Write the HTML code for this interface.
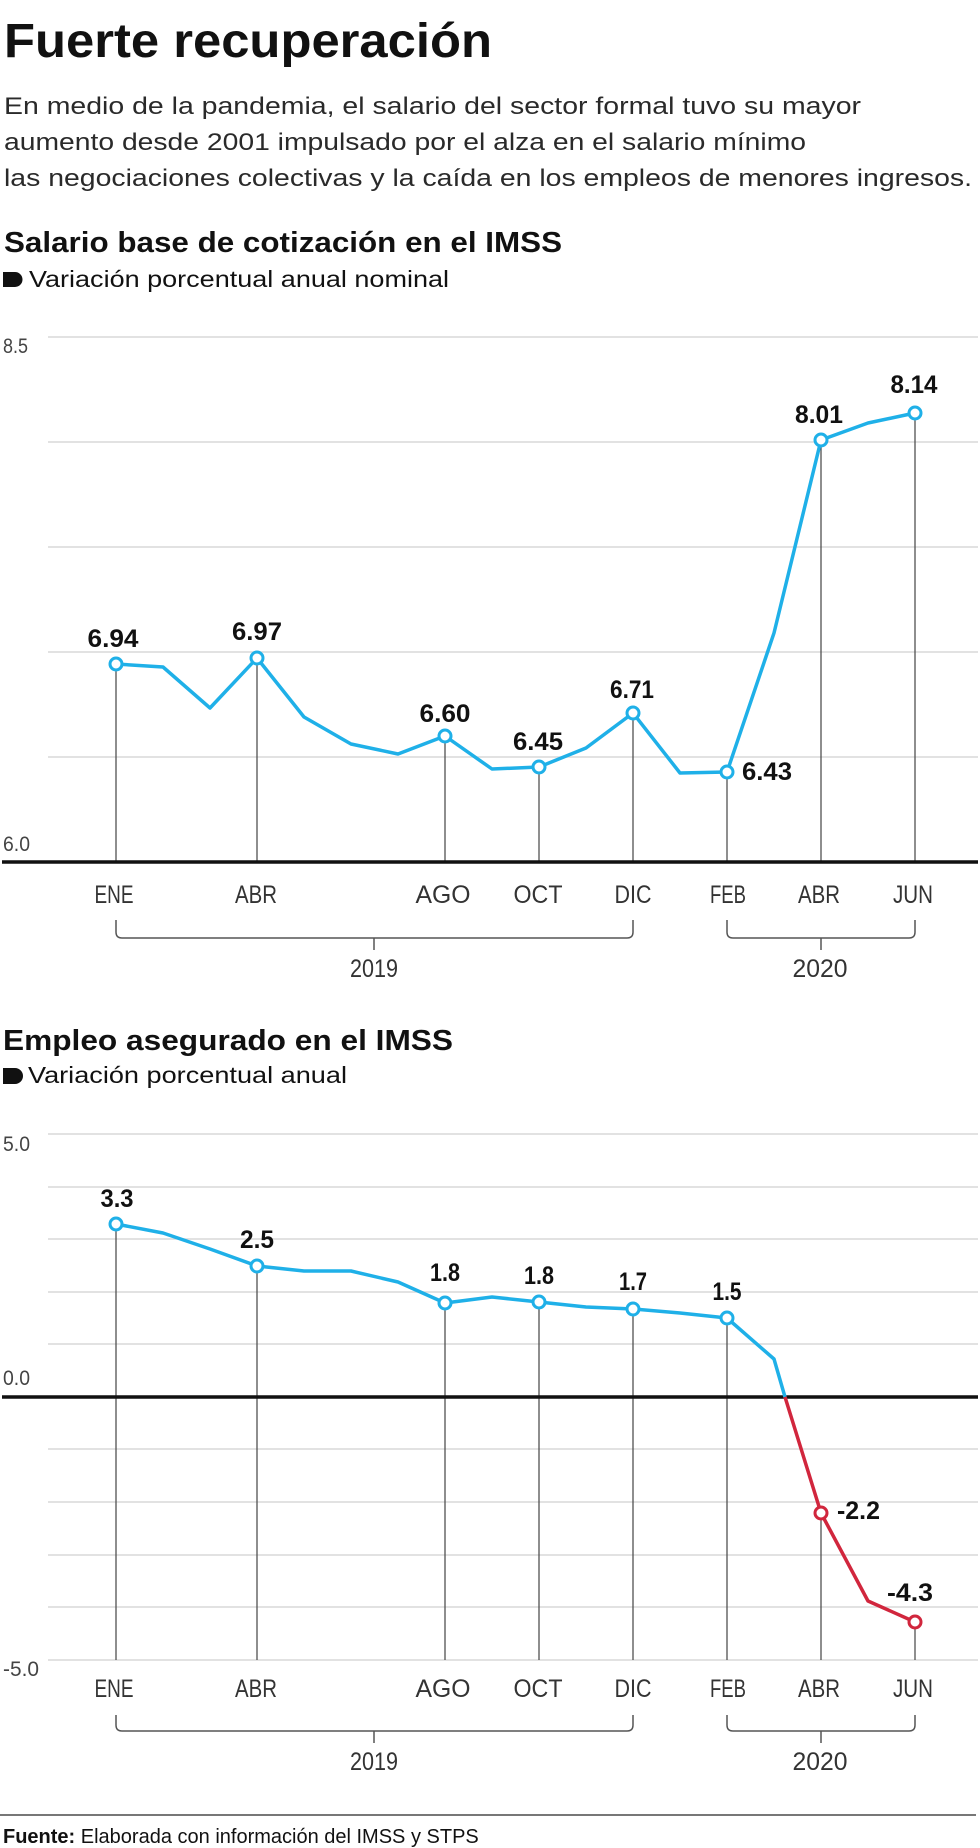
<!DOCTYPE html>
<html>
<head>
<meta charset="utf-8">
<style>
  html, body { margin:0; padding:0; background:#fff; }
  svg { display:block; }
  .t { font-family:"Liberation Sans", Arial, sans-serif; }
</style>
</head>
<body>
<svg width="980" height="1848" viewBox="0 0 980 1848" xmlns="http://www.w3.org/2000/svg" class="t">
  <rect width="980" height="1848" fill="#fff"/>

  <!-- Header -->
  <text x="4" y="57" font-size="48" font-weight="bold" fill="#111" textLength="488" lengthAdjust="spacingAndGlyphs">Fuerte recuperación</text>
  <text x="4" y="114" font-size="24" fill="#2a2a2a" textLength="857" lengthAdjust="spacingAndGlyphs">En medio de la pandemia, el salario del sector formal tuvo su mayor</text>
  <text x="4" y="150" font-size="24" fill="#2a2a2a" textLength="802" lengthAdjust="spacingAndGlyphs">aumento desde 2001 impulsado por el alza en el salario mínimo</text>
  <text x="4" y="186" font-size="24" fill="#2a2a2a" textLength="968" lengthAdjust="spacingAndGlyphs">las negociaciones colectivas y la caída en los empleos de menores ingresos.</text>

  <!-- Chart 1 title -->
  <text x="4" y="252" font-size="29" font-weight="bold" fill="#111" textLength="558" lengthAdjust="spacingAndGlyphs">Salario base de cotización en el IMSS</text>
  <path d="M3,272 h12 a7.5,7.5 0 0 1 0,15 h-12 z" fill="#111"/>
  <text x="29" y="287" font-size="23" fill="#111" textLength="420" lengthAdjust="spacingAndGlyphs">Variación porcentual anual nominal</text>

  <!-- Chart 1 grid -->
  <g stroke="#d9d9d9" stroke-width="1.5">
    <line x1="48" y1="337" x2="978" y2="337"/>
    <line x1="48" y1="442" x2="978" y2="442"/>
    <line x1="48" y1="547" x2="978" y2="547"/>
    <line x1="48" y1="652" x2="978" y2="652"/>
    <line x1="48" y1="757" x2="978" y2="757"/>
  </g>
  <text x="3" y="353" font-size="21" fill="#444" textLength="25" lengthAdjust="spacingAndGlyphs">8.5</text>
  <text x="3" y="851" font-size="21" fill="#444" textLength="27" lengthAdjust="spacingAndGlyphs">6.0</text>

  <!-- Chart 1 drop lines -->
  <g stroke="#444" stroke-width="1.2">
    <line x1="116" y1="664" x2="116" y2="862"/>
    <line x1="257" y1="658" x2="257" y2="862"/>
    <line x1="445" y1="736" x2="445" y2="862"/>
    <line x1="539" y1="767" x2="539" y2="862"/>
    <line x1="633" y1="713" x2="633" y2="862"/>
    <line x1="727" y1="772" x2="727" y2="862"/>
    <line x1="821" y1="440" x2="821" y2="862"/>
    <line x1="915" y1="413" x2="915" y2="862"/>
  </g>
  <line x1="2" y1="862" x2="978" y2="862" stroke="#111" stroke-width="3.5"/>

  <!-- Chart 1 series -->
  <polyline fill="none" stroke="#1fb0e8" stroke-width="3.5" stroke-linejoin="round"
    points="116,664 163,667 210,708 257,658 304,717 351,744 398,754 445,736 492,769 539,767 586,748 633,713 680,773 727,772 774,633 821,440 868,423 915,413"/>
  <g fill="#fff" stroke="#1fb0e8" stroke-width="3">
    <circle cx="116" cy="664" r="6"/>
    <circle cx="257" cy="658" r="6"/>
    <circle cx="445" cy="736" r="6"/>
    <circle cx="539" cy="767" r="6"/>
    <circle cx="633" cy="713" r="6"/>
    <circle cx="727" cy="772" r="6"/>
    <circle cx="821" cy="440" r="6"/>
    <circle cx="915" cy="413" r="6"/>
  </g>
  <g font-size="25" font-weight="bold" fill="#111" text-anchor="middle">
    <text x="113" y="647" textLength="51" lengthAdjust="spacingAndGlyphs">6.94</text>
    <text x="257" y="640" textLength="50" lengthAdjust="spacingAndGlyphs">6.97</text>
    <text x="445" y="722" textLength="51" lengthAdjust="spacingAndGlyphs">6.60</text>
    <text x="538" y="750" textLength="50" lengthAdjust="spacingAndGlyphs">6.45</text>
    <text x="632" y="698" textLength="44" lengthAdjust="spacingAndGlyphs">6.71</text>
    <text x="819" y="423" textLength="48" lengthAdjust="spacingAndGlyphs">8.01</text>
    <text x="914" y="393" textLength="47" lengthAdjust="spacingAndGlyphs">8.14</text>
  </g>
  <text x="742" y="780" font-size="25" font-weight="bold" fill="#111" textLength="50" lengthAdjust="spacingAndGlyphs">6.43</text>

  <!-- Chart 1 x axis -->
  <g font-size="25" fill="#333" text-anchor="middle">
    <text x="114" y="903" textLength="39" lengthAdjust="spacingAndGlyphs">ENE</text>
    <text x="256" y="903" textLength="42" lengthAdjust="spacingAndGlyphs">ABR</text>
    <text x="443" y="903" textLength="55" lengthAdjust="spacingAndGlyphs">AGO</text>
    <text x="538" y="903" textLength="49" lengthAdjust="spacingAndGlyphs">OCT</text>
    <text x="633" y="903" textLength="37" lengthAdjust="spacingAndGlyphs">DIC</text>
    <text x="728" y="903" textLength="36" lengthAdjust="spacingAndGlyphs">FEB</text>
    <text x="819" y="903" textLength="42" lengthAdjust="spacingAndGlyphs">ABR</text>
    <text x="913" y="903" textLength="40" lengthAdjust="spacingAndGlyphs">JUN</text>
    <text x="374" y="977" textLength="48" lengthAdjust="spacingAndGlyphs">2019</text>
    <text x="820" y="977" textLength="55" lengthAdjust="spacingAndGlyphs">2020</text>
  </g>
  <g fill="none" stroke="#555" stroke-width="1.5">
    <path d="M116,920 V932 Q116,938 122,938 H627 Q633,938 633,932 V920"/>
    <path d="M374,938 V950"/>
    <path d="M727,920 V932 Q727,938 733,938 H909 Q915,938 915,932 V920"/>
    <path d="M821,938 V950"/>
  </g>

  <!-- Chart 2 title -->
  <text x="3" y="1050" font-size="29" font-weight="bold" fill="#111" textLength="450" lengthAdjust="spacingAndGlyphs">Empleo asegurado en el IMSS</text>
  <path d="M3,1068 h12 a8,8 0 0 1 0,16 h-12 z" fill="#111"/>
  <text x="28" y="1083" font-size="23" fill="#111" textLength="319" lengthAdjust="spacingAndGlyphs">Variación porcentual anual</text>

  <!-- Chart 2 grid -->
  <g stroke="#d9d9d9" stroke-width="1.5">
    <line x1="48" y1="1134" x2="978" y2="1134"/>
    <line x1="48" y1="1187" x2="978" y2="1187"/>
    <line x1="48" y1="1239" x2="978" y2="1239"/>
    <line x1="48" y1="1292" x2="978" y2="1292"/>
    <line x1="48" y1="1344" x2="978" y2="1344"/>
    <line x1="48" y1="1449" x2="978" y2="1449"/>
    <line x1="48" y1="1502" x2="978" y2="1502"/>
    <line x1="48" y1="1555" x2="978" y2="1555"/>
    <line x1="48" y1="1607" x2="978" y2="1607"/>
    <line x1="48" y1="1660" x2="978" y2="1660"/>
  </g>
  <text x="3" y="1151" font-size="21" fill="#444" textLength="27" lengthAdjust="spacingAndGlyphs">5.0</text>
  <text x="3" y="1385" font-size="21" fill="#444" textLength="27" lengthAdjust="spacingAndGlyphs">0.0</text>
  <text x="3" y="1676" font-size="21" fill="#444" textLength="36" lengthAdjust="spacingAndGlyphs">-5.0</text>

  <!-- Chart 2 drop lines -->
  <g stroke="#444" stroke-width="1.2">
    <line x1="116" y1="1224" x2="116" y2="1660"/>
    <line x1="257" y1="1266" x2="257" y2="1660"/>
    <line x1="445" y1="1303" x2="445" y2="1660"/>
    <line x1="539" y1="1302" x2="539" y2="1660"/>
    <line x1="633" y1="1309" x2="633" y2="1660"/>
    <line x1="727" y1="1318" x2="727" y2="1660"/>
    <line x1="821" y1="1513" x2="821" y2="1660"/>
    <line x1="915" y1="1622" x2="915" y2="1660"/>
  </g>
  <line x1="2" y1="1397" x2="978" y2="1397" stroke="#111" stroke-width="3.5"/>

  <!-- Chart 2 series -->
  <polyline fill="none" stroke="#1fb0e8" stroke-width="3.5" stroke-linejoin="round"
    points="116,1224 163,1233 210,1249 257,1266 304,1271 351,1271 398,1282 445,1303 492,1297 539,1302 586,1307 633,1309 680,1313 727,1318 774,1359 785,1397"/>
  <polyline fill="none" stroke="#d1263d" stroke-width="3.5" stroke-linejoin="round"
    points="785,1397 821,1513 868,1601 915,1622"/>
  <g fill="#fff" stroke="#1fb0e8" stroke-width="3">
    <circle cx="116" cy="1224" r="6"/>
    <circle cx="257" cy="1266" r="6"/>
    <circle cx="445" cy="1303" r="6"/>
    <circle cx="539" cy="1302" r="6"/>
    <circle cx="633" cy="1309" r="6"/>
    <circle cx="727" cy="1318" r="6"/>
  </g>
  <g fill="#fff" stroke="#d1263d" stroke-width="3">
    <circle cx="821" cy="1513" r="6"/>
    <circle cx="915" cy="1622" r="6"/>
  </g>
  <g font-size="25" font-weight="bold" fill="#111" text-anchor="middle">
    <text x="117" y="1207" textLength="33" lengthAdjust="spacingAndGlyphs">3.3</text>
    <text x="257" y="1248" textLength="34" lengthAdjust="spacingAndGlyphs">2.5</text>
    <text x="445" y="1281" textLength="30" lengthAdjust="spacingAndGlyphs">1.8</text>
    <text x="539" y="1284" textLength="30" lengthAdjust="spacingAndGlyphs">1.8</text>
    <text x="633" y="1290" textLength="28" lengthAdjust="spacingAndGlyphs">1.7</text>
    <text x="727" y="1300" textLength="29" lengthAdjust="spacingAndGlyphs">1.5</text>
    <text x="910" y="1601" textLength="46" lengthAdjust="spacingAndGlyphs">-4.3</text>
  </g>
  <text x="837" y="1519" font-size="25" font-weight="bold" fill="#111" textLength="43" lengthAdjust="spacingAndGlyphs">-2.2</text>

  <!-- Chart 2 x axis -->
  <g font-size="25" fill="#333" text-anchor="middle">
    <text x="114" y="1697" textLength="39" lengthAdjust="spacingAndGlyphs">ENE</text>
    <text x="256" y="1697" textLength="42" lengthAdjust="spacingAndGlyphs">ABR</text>
    <text x="443" y="1697" textLength="55" lengthAdjust="spacingAndGlyphs">AGO</text>
    <text x="538" y="1697" textLength="49" lengthAdjust="spacingAndGlyphs">OCT</text>
    <text x="633" y="1697" textLength="37" lengthAdjust="spacingAndGlyphs">DIC</text>
    <text x="728" y="1697" textLength="36" lengthAdjust="spacingAndGlyphs">FEB</text>
    <text x="819" y="1697" textLength="42" lengthAdjust="spacingAndGlyphs">ABR</text>
    <text x="913" y="1697" textLength="40" lengthAdjust="spacingAndGlyphs">JUN</text>
    <text x="374" y="1770" textLength="48" lengthAdjust="spacingAndGlyphs">2019</text>
    <text x="820" y="1770" textLength="55" lengthAdjust="spacingAndGlyphs">2020</text>
  </g>
  <g fill="none" stroke="#555" stroke-width="1.5">
    <path d="M116,1715 V1725 Q116,1731 122,1731 H627 Q633,1731 633,1725 V1715"/>
    <path d="M374,1731 V1743"/>
    <path d="M727,1715 V1725 Q727,1731 733,1731 H909 Q915,1731 915,1725 V1715"/>
    <path d="M821,1731 V1743"/>
  </g>

  <!-- Footer -->
  <line x1="0" y1="1815" x2="976" y2="1815" stroke="#777" stroke-width="2"/>
  <text x="3" y="1843" font-size="20" fill="#111"><tspan font-weight="bold">Fuente:</tspan> Elaborada con información del IMSS y STPS</text>
</svg>
</body>
</html>
